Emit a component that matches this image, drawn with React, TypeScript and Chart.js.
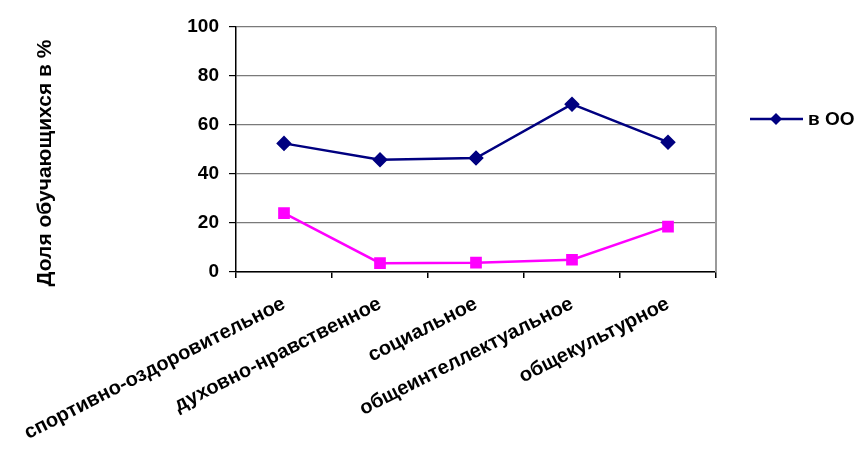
import React, { useEffect, useRef } from "react";
import { Chart, registerables } from "chart.js";

Chart.register(...registerables);

const categories = [
  "спортивно-оздоровительное",
  "духовно-нравственное",
  "социальное",
  "общеинтеллектуальное",
  "общекультурное",
];
const seriesOO = [52.5, 45.8, 46.5, 68.5, 53];
const seriesOther = [24, 3.6, 3.8, 5, 18.5];
const seriesLabels = ["в ОО", ""];
const yTitle = "Доля обучающихся в %";

const FONT = "'Liberation Sans', Arial, sans-serif";

const decorPlugin = {
  id: "decor",
  afterDraw(chart: any) {
    const { ctx, chartArea } = chart;
    ctx.save();
    // right border
    ctx.strokeStyle = "#9a9a9a";
    ctx.lineWidth = 2;
    ctx.beginPath();
    ctx.moveTo(chartArea.right, chartArea.top);
    ctx.lineTo(chartArea.right, chartArea.bottom);
    ctx.stroke();
    // y title
    ctx.fillStyle = "#000";
    ctx.font = `bold 21px ${FONT}`;
    ctx.textAlign = "center";
    ctx.textBaseline = "middle";
    ctx.translate(45, 163);
    ctx.rotate(-Math.PI / 2);
    ctx.fillText(yTitle, 0, 0);
    ctx.restore();
    // legend
    ctx.save();
    const ds = chart.data.datasets[0];
    const ly = 119;
    ctx.strokeStyle = ds.borderColor;
    ctx.lineWidth = 2.5;
    ctx.beginPath();
    ctx.moveTo(750, ly);
    ctx.lineTo(803, ly);
    ctx.stroke();
    ctx.fillStyle = ds.pointBackgroundColor;
    ctx.beginPath();
    const r = 6;
    ctx.moveTo(776, ly - r);
    ctx.lineTo(776 + r, ly);
    ctx.lineTo(776, ly + r);
    ctx.lineTo(776 - r, ly);
    ctx.closePath();
    ctx.fill();
    ctx.fillStyle = "#000";
    ctx.font = `bold 19px ${FONT}`;
    ctx.textAlign = "left";
    ctx.textBaseline = "middle";
    ctx.fillText(ds.label, 808, ly + 1);
    ctx.restore();
  },
};

export default function App() {
  const ref = useRef<HTMLCanvasElement>(null);
  useEffect(() => {
    document.body.style.margin = "0";
    const chart = new Chart(ref.current!, {
      type: "line",
      data: {
        labels: categories,
        datasets: [
          {
            label: seriesLabels[0],
            data: seriesOO,
            borderColor: "#000080",
            backgroundColor: "#000080",
            pointBackgroundColor: "#000080",
            pointBorderColor: "#000080",
            pointStyle: "rectRot",
            pointRadius: 6,
            borderWidth: 2.5,
            tension: 0,
          },
          {
            label: seriesLabels[1],
            data: seriesOther,
            borderColor: "#FF00FF",
            backgroundColor: "#FF00FF",
            pointBackgroundColor: "#FF00FF",
            pointBorderColor: "#FF00FF",
            pointStyle: "rect",
            pointRadius: 6.5,
            borderWidth: 2.5,
            tension: 0,
          },
        ],
      },
      options: {
        responsive: false,
        animation: false,
        layout: { padding: { left: 0, top: 27, right: 143, bottom: 0 } },
        plugins: {
          legend: { display: false },
          tooltip: { enabled: false },
        },
        scales: {
          x: {
            offset: true,
            grid: {
              offset: true,
              drawOnChartArea: false,
              drawTicks: true,
              tickLength: 6,
              color: "#000",
              lineWidth: 1.5,
            },
            border: { color: "#000", width: 1.5 },
            ticks: {
              autoSkip: false,
              minRotation: 27,
              maxRotation: 27,
              padding: 14,
              color: "#000",
              font: { family: FONT, size: 20, weight: "bold" },
            },
            afterFit: (s: any) => {
              s.height = 177;
              s.paddingLeft = 0;
              s.paddingRight = 0;
            },
          },
          y: {
            min: 0,
            max: 100,
            ticks: {
              stepSize: 20,
              padding: 10,
              color: "#000",
              font: { family: FONT, size: 19, weight: "bold" },
            },
            grid: {
              color: "#7a7a7a",
              lineWidth: 1.2,
              tickLength: 7,
              tickColor: "#000",
            },
            border: { color: "#000", width: 1.5 },
            afterFit: (s: any) => {
              s.width = 236;
            },
          },
        },
      },
      plugins: [decorPlugin],
    });
    return () => chart.destroy();
  }, []);
  return (
    <div style={{ width: 859, height: 449 }}>
      <canvas ref={ref} width={859} height={449} />
    </div>
  );
}
